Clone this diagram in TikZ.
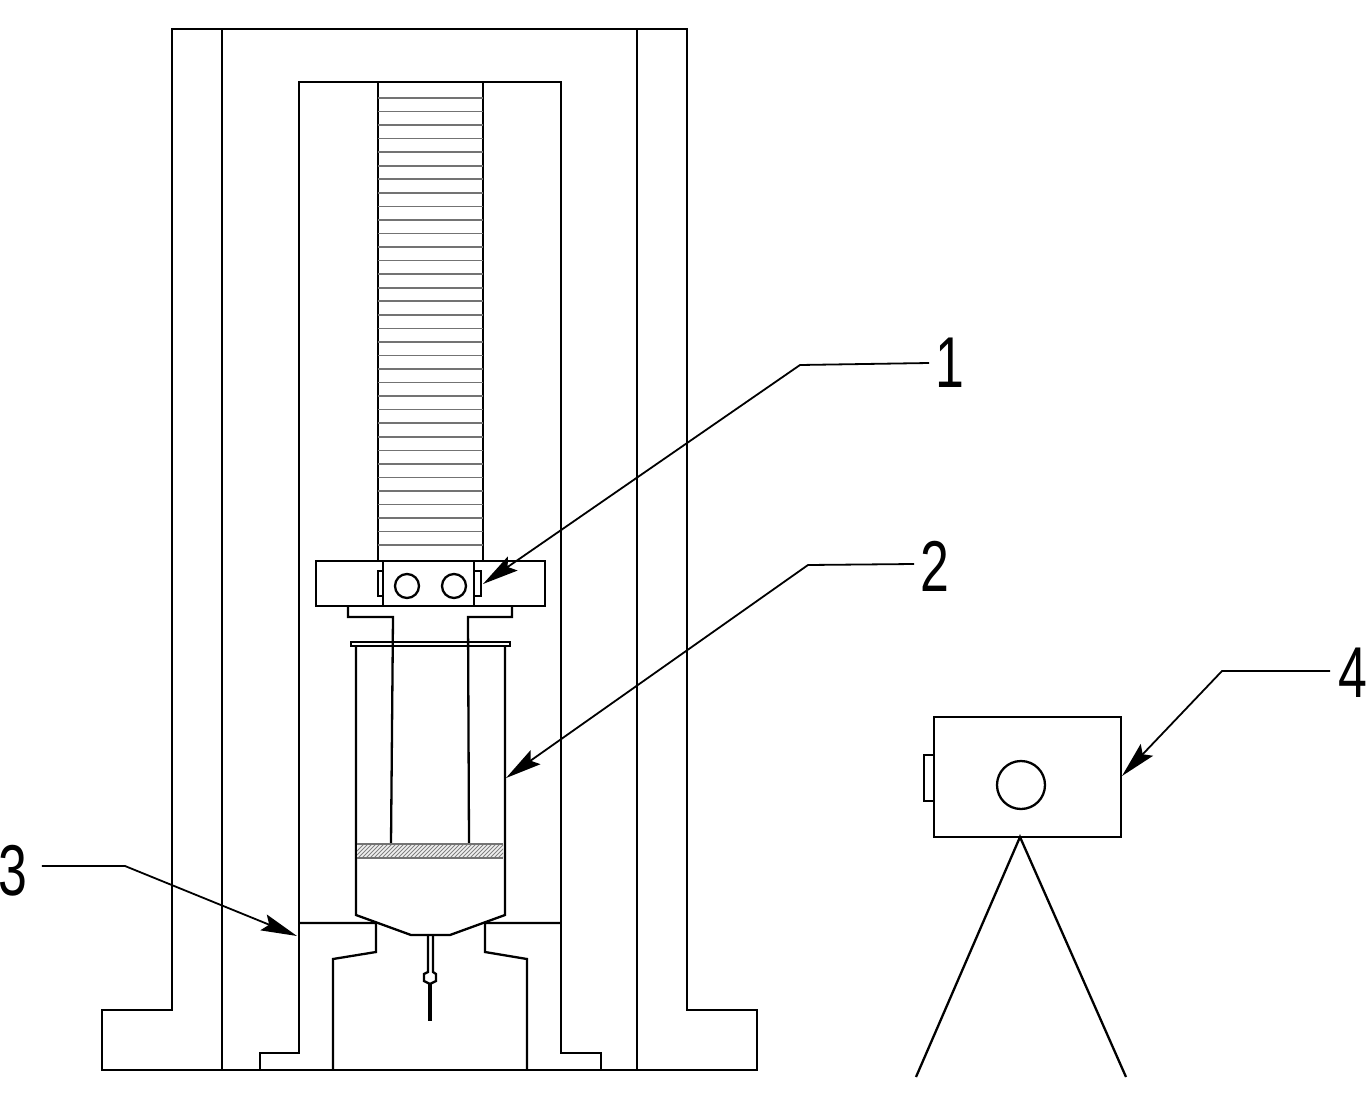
\documentclass[tikz,border=0pt]{standalone}
\usepackage{fontspec}
\usepackage{graphicx}
\setmainfont{Liberation Sans}
\usetikzlibrary{arrows.meta}
\begin{document}
\begin{tikzpicture}[
x=0.5pt, y=-0.5pt,
partline/.style={black, line width=1.15pt, line join=miter},
thinline/.style={black!55, line width=0.8pt},
leaderline/.style={black, line width=0.9pt, -{Stealth[length=18pt,width=8.5pt,inset=3pt]}},
calloutnode/.style={inner sep=0pt, font=\fontsize{36}{36}\selectfont},
]
\useasboundingbox (0,0) rectangle (1366,1113);

%Frame
\draw[partline] (172,1010) -- (172,29) -- (687,29) -- (687,1010) -- (757,1010) -- (757,1070) -- (102,1070) -- (102,1010) -- cycle;
\draw[partline] (222,29) -- (222,1070);
\draw[partline] (637,29) -- (637,1070);
\draw[partline] (260,1070) -- (260,1053) -- (299,1053) -- (299,82) -- (561,82) -- (561,1053) -- (601,1053) -- (601,1070);

%Column
\draw[partline] (378,82) -- (378,561);
\draw[partline] (483,82) -- (483,561);
\foreach \yline in {0,...,33}
  \draw[thinline] (378,98+13.55*\yline) -- (483,98+13.55*\yline);

%Clamp
\draw[partline] (316,561) rectangle (545,606);
\draw[partline] (383,561) rectangle (474,606);
\draw[partline] (407,586) circle (12);
\draw[partline] (454,586) circle (12);
\draw[partline] (383,571) -- (378,571) -- (378,596) -- (383,596);
\draw[partline] (474,571) -- (481,571) -- (481,596) -- (474,596);
\draw[partline] (348,606) -- (348,617) -- (393,617) -- (391,844);
\draw[partline] (512,606) -- (512,617) -- (468,617) -- (469,844);

%Syringe
\draw[partline] (351,642) rectangle (510,646);
\draw[partline] (356,646) -- (356,915) -- (411,935) -- (450,935) -- (505,915) -- (505,646);
\fill[black!6] (357,844) rectangle (503,858);
\begin{scope}
\clip (357,844) rectangle (503,858);
\foreach \xhatch in {350,354,...,510}
  \draw[black!50, line width=0.4pt] (\xhatch,858) -- (\xhatch+14,844);
\end{scope}
\draw[thinline] (357,844) -- (503,844);
\draw[thinline] (357,858) -- (503,858);
\draw[partline] (428,935) -- (428,972) -- (424,974) -- (424,981) -- (430,984) -- (436,981) -- (436,974) -- (433,972) -- (433,935);
\draw[black, line width=1.8pt] (430,984) -- (430,1021);

%Base
\draw[partline] (299,923) -- (376,923) -- (376,952) -- (333,959) -- (333,1070);
\draw[partline] (561,923) -- (485,923) -- (485,952) -- (527,959) -- (527,1070);

%Camera
\draw[partline] (934,717) rectangle (1121,837);
\draw[partline] (1021,785) circle (24);
\draw[partline] (934,755) -- (924,755) -- (924,801) -- (934,801);
\draw[partline] (916,1077) -- (1020,837) -- (1126,1077);

%Nodes
\node[calloutnode]		(num1)	at (950,363)	{\scalebox{0.72}[1]{1}};
\node[calloutnode]		(num2)	at (935,566)	{\scalebox{0.72}[1]{2}};
\node[calloutnode]		(num3)	at (13,871)		{\scalebox{0.72}[1]{3}};
\node[calloutnode]		(num4)	at (1353,673)	{\scalebox{0.72}[1]{4}};
\coordinate (tip1) at (483,584);
\coordinate (tip2) at (506,778);
\coordinate (tip3) at (297,936);
\coordinate (tip4) at (1122,776);

%Lines
\draw[leaderline] (num1.west) ++(-6,0) -- (800,365) -- (tip1);
\draw[leaderline] (num2.west) ++(-6,-2) -- (808,565) -- (tip2);
\draw[leaderline] (num3.east) ++(14,-5) -- (125,866) -- (tip3);
\draw[leaderline] (num4.west) ++(-8,-2) -- (1222,671) -- (tip4);
\end{tikzpicture}
\end{document}
